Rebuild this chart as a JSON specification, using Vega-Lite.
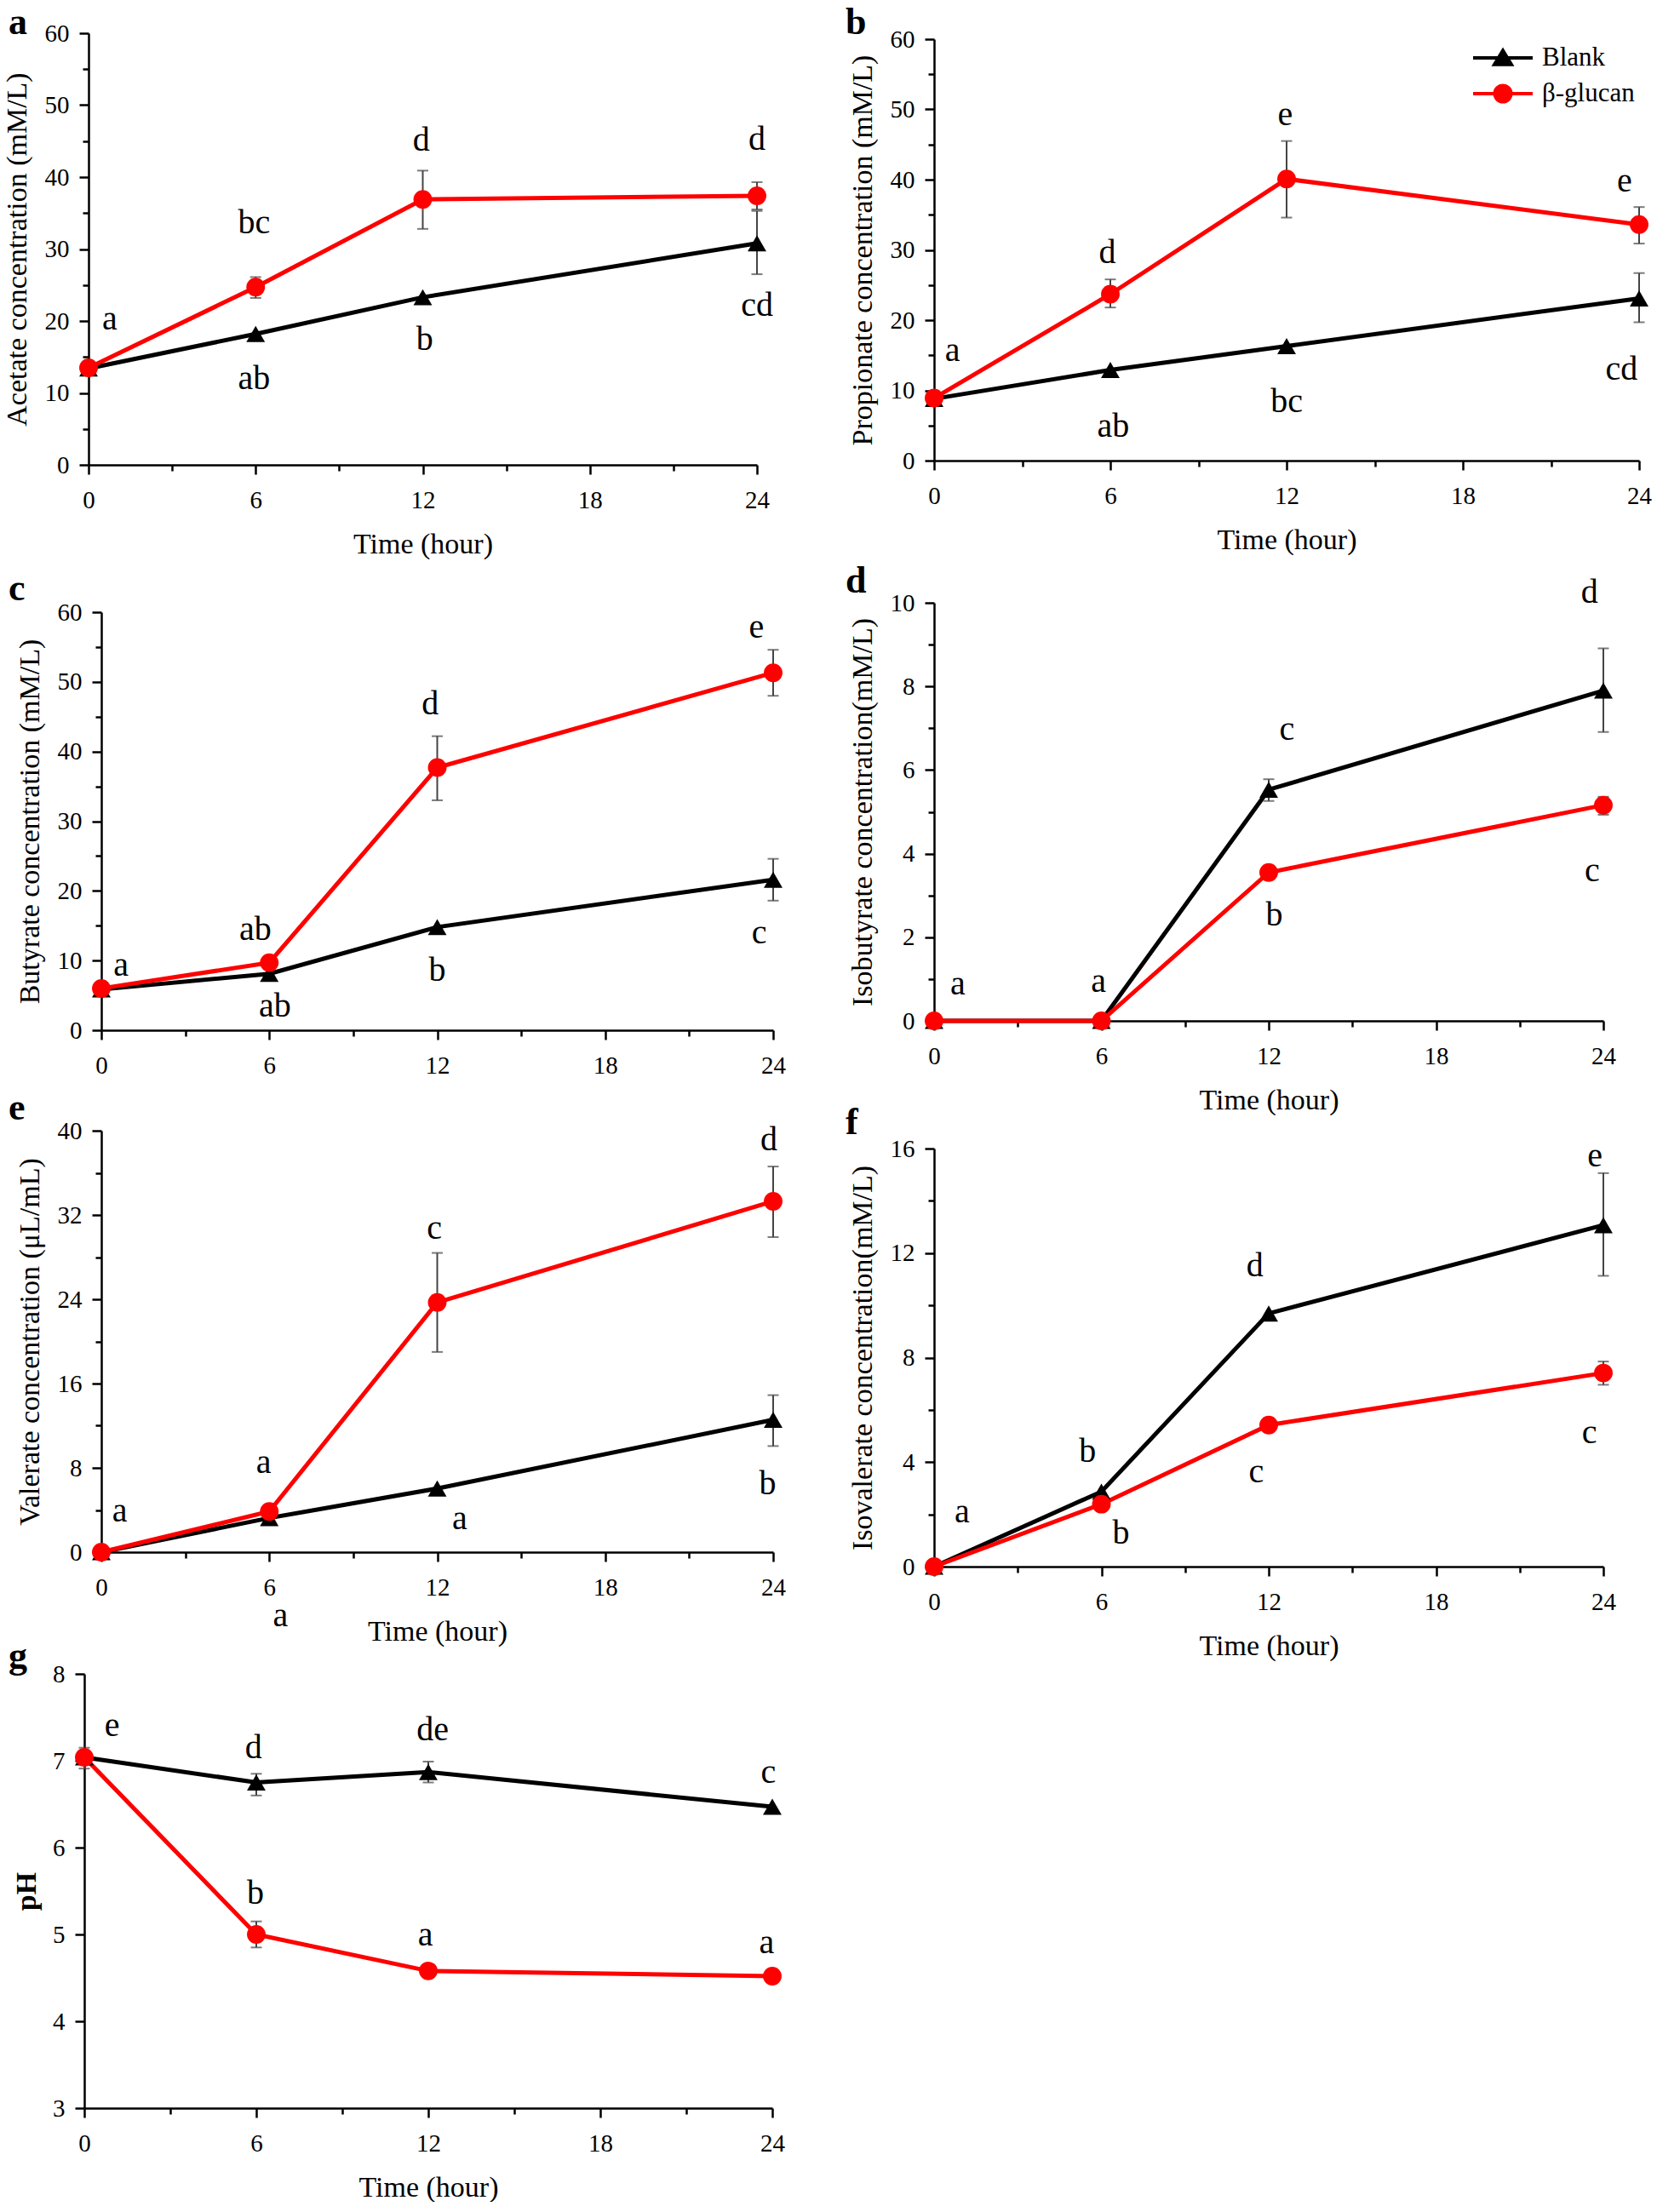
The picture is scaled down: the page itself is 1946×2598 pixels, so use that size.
{
  "$schema": "https://vega.github.io/schema/vega-lite/v6.json",
  "background": "white",
  "padding": {"left": 3, "top": 5, "right": 0, "bottom": 0},
  "columns": 2,
  "spacing": {"row": 0, "column": 189},
  "bounds": "flush",
  "resolve": {"scale": {"color": "independent", "shape": "independent"}, "legend": {"color": "independent", "shape": "independent"}},
  "datasets": {
    "series": [
      {"p": "a", "g": "Blank", "t": 0, "v": 13.4}, {"p": "a", "g": "Blank", "t": 6, "v": 18.2}, {"p": "a", "g": "Blank", "t": 12, "v": 23.3}, {"p": "a", "g": "Blank", "t": 24, "v": 30.8},
      {"p": "a", "g": "β-glucan", "t": 0, "v": 13.5}, {"p": "a", "g": "β-glucan", "t": 6, "v": 24.7}, {"p": "a", "g": "β-glucan", "t": 12, "v": 36.9}, {"p": "a", "g": "β-glucan", "t": 24, "v": 37.4},
      {"p": "b", "g": "Blank", "t": 0, "v": 8.8}, {"p": "b", "g": "Blank", "t": 6, "v": 12.9}, {"p": "b", "g": "Blank", "t": 12, "v": 16.3}, {"p": "b", "g": "Blank", "t": 24, "v": 23.1},
      {"p": "b", "g": "β-glucan", "t": 0, "v": 8.9}, {"p": "b", "g": "β-glucan", "t": 6, "v": 23.7}, {"p": "b", "g": "β-glucan", "t": 12, "v": 40.1}, {"p": "b", "g": "β-glucan", "t": 24, "v": 33.6},
      {"p": "c", "g": "Blank", "t": 0, "v": 5.85}, {"p": "c", "g": "Blank", "t": 6, "v": 8.1}, {"p": "c", "g": "Blank", "t": 12, "v": 14.8}, {"p": "c", "g": "Blank", "t": 24, "v": 21.6},
      {"p": "c", "g": "β-glucan", "t": 0, "v": 6.0}, {"p": "c", "g": "β-glucan", "t": 6, "v": 9.7}, {"p": "c", "g": "β-glucan", "t": 12, "v": 37.7}, {"p": "c", "g": "β-glucan", "t": 24, "v": 51.3},
      {"p": "d", "g": "Blank", "t": 0, "v": 0}, {"p": "d", "g": "Blank", "t": 6, "v": 0}, {"p": "d", "g": "Blank", "t": 12, "v": 5.53}, {"p": "d", "g": "Blank", "t": 24, "v": 7.9},
      {"p": "d", "g": "β-glucan", "t": 0, "v": 0}, {"p": "d", "g": "β-glucan", "t": 6, "v": 0}, {"p": "d", "g": "β-glucan", "t": 12, "v": 3.55}, {"p": "d", "g": "β-glucan", "t": 24, "v": 5.16},
      {"p": "e", "g": "Blank", "t": 0, "v": 0}, {"p": "e", "g": "Blank", "t": 6, "v": 3.24}, {"p": "e", "g": "Blank", "t": 12, "v": 6.04}, {"p": "e", "g": "Blank", "t": 24, "v": 12.56},
      {"p": "e", "g": "β-glucan", "t": 0, "v": 0}, {"p": "e", "g": "β-glucan", "t": 6, "v": 3.86}, {"p": "e", "g": "β-glucan", "t": 12, "v": 23.7}, {"p": "e", "g": "β-glucan", "t": 24, "v": 33.3},
      {"p": "f", "g": "Blank", "t": 0, "v": 0}, {"p": "f", "g": "Blank", "t": 6, "v": 2.87}, {"p": "f", "g": "Blank", "t": 12, "v": 9.69}, {"p": "f", "g": "Blank", "t": 24, "v": 13.07},
      {"p": "f", "g": "β-glucan", "t": 0, "v": 0}, {"p": "f", "g": "β-glucan", "t": 6, "v": 2.39}, {"p": "f", "g": "β-glucan", "t": 12, "v": 5.42}, {"p": "f", "g": "β-glucan", "t": 24, "v": 7.41},
      {"p": "g", "g": "Blank", "t": 0, "v": 7.04}, {"p": "g", "g": "Blank", "t": 6, "v": 6.75}, {"p": "g", "g": "Blank", "t": 12, "v": 6.87}, {"p": "g", "g": "Blank", "t": 24, "v": 6.47},
      {"p": "g", "g": "β-glucan", "t": 0, "v": 7.04}, {"p": "g", "g": "β-glucan", "t": 6, "v": 5.0}, {"p": "g", "g": "β-glucan", "t": 12, "v": 4.58}, {"p": "g", "g": "β-glucan", "t": 24, "v": 4.52}
    ],
    "errs": [
      {"p": "a", "t": 24, "v": 26.5, "v2": 35.3}, {"p": "a", "t": 6, "v": 23.2, "v2": 26.1}, {"p": "a", "t": 12, "v": 32.8, "v2": 40.9}, {"p": "a", "t": 24, "v": 35.5, "v2": 39.3},
      {"p": "b", "t": 24, "v": 19.7, "v2": 26.7}, {"p": "b", "t": 6, "v": 21.8, "v2": 25.8}, {"p": "b", "t": 12, "v": 34.6, "v2": 45.5}, {"p": "b", "t": 24, "v": 30.9, "v2": 36.1},
      {"p": "c", "t": 24, "v": 18.6, "v2": 24.6}, {"p": "c", "t": 12, "v": 33.0, "v2": 42.2}, {"p": "c", "t": 24, "v": 48.0, "v2": 54.6},
      {"p": "d", "t": 12, "v": 5.26, "v2": 5.78}, {"p": "d", "t": 24, "v": 6.91, "v2": 8.91}, {"p": "d", "t": 24, "v": 4.93, "v2": 5.36},
      {"p": "e", "t": 24, "v": 10.07, "v2": 14.9}, {"p": "e", "t": 12, "v": 19.0, "v2": 28.4}, {"p": "e", "t": 24, "v": 29.9, "v2": 36.6},
      {"p": "f", "t": 24, "v": 11.13, "v2": 15.06}, {"p": "f", "t": 24, "v": 6.96, "v2": 7.85},
      {"p": "g", "t": 0, "v": 6.91, "v2": 7.15}, {"p": "g", "t": 6, "v": 6.6, "v2": 6.85}, {"p": "g", "t": 12, "v": 6.75, "v2": 6.99}, {"p": "g", "t": 6, "v": 4.85, "v2": 5.15}
    ],
    "letters": [
      {"p": "a", "t": 0.76, "v": 20.2, "s": "a"}, {"p": "a", "t": 5.94, "v": 33.6, "s": "bc"}, {"p": "a", "t": 11.95, "v": 45.1, "s": "d"}, {"p": "a", "t": 24.0, "v": 45.2, "s": "d"},
      {"p": "a", "t": 5.94, "v": 12.0, "s": "ab"}, {"p": "a", "t": 12.07, "v": 17.4, "s": "b"}, {"p": "a", "t": 24.0, "v": 22.1, "s": "cd"},
      {"p": "b", "t": 0.63, "v": 15.6, "s": "a"}, {"p": "b", "t": 5.9, "v": 29.6, "s": "d"}, {"p": "b", "t": 11.95, "v": 49.2, "s": "e"}, {"p": "b", "t": 23.5, "v": 39.7, "s": "e"},
      {"p": "b", "t": 6.1, "v": 4.85, "s": "ab"}, {"p": "b", "t": 12.0, "v": 8.4, "s": "bc"}, {"p": "b", "t": 23.4, "v": 13.0, "s": "cd"},
      {"p": "c", "t": 0.7, "v": 9.3, "s": "a"}, {"p": "c", "t": 5.5, "v": 14.4, "s": "ab"}, {"p": "c", "t": 6.2, "v": 3.4, "s": "ab"}, {"p": "c", "t": 11.75, "v": 46.8, "s": "d"},
      {"p": "c", "t": 12.0, "v": 8.5, "s": "b"}, {"p": "c", "t": 23.4, "v": 57.8, "s": "e"}, {"p": "c", "t": 23.5, "v": 13.9, "s": "c"},
      {"p": "d", "t": 0.85, "v": 0.87, "s": "a"}, {"p": "d", "t": 5.9, "v": 0.93, "s": "a"}, {"p": "d", "t": 12.65, "v": 6.96, "s": "c"}, {"p": "d", "t": 12.2, "v": 2.53, "s": "b"},
      {"p": "d", "t": 23.5, "v": 10.25, "s": "d"}, {"p": "d", "t": 23.6, "v": 3.59, "s": "c"},
      {"p": "e", "t": 0.66, "v": 3.86, "s": "a"}, {"p": "e", "t": 5.8, "v": 8.5, "s": "a"}, {"p": "e", "t": 6.4, "v": -6.1, "s": "a"}, {"p": "e", "t": 11.9, "v": 30.7, "s": "c"},
      {"p": "e", "t": 12.8, "v": 3.14, "s": "a"}, {"p": "e", "t": 23.85, "v": 39.1, "s": "d"}, {"p": "e", "t": 23.8, "v": 6.5, "s": "b"},
      {"p": "f", "t": 1.0, "v": 2.1, "s": "a"}, {"p": "f", "t": 5.5, "v": 4.4, "s": "b"}, {"p": "f", "t": 6.7, "v": 1.26, "s": "b"}, {"p": "f", "t": 11.5, "v": 11.5, "s": "d"},
      {"p": "f", "t": 11.55, "v": 3.62, "s": "c"}, {"p": "f", "t": 23.7, "v": 15.7, "s": "e"}, {"p": "f", "t": 23.5, "v": 5.12, "s": "c"},
      {"p": "g", "t": 0.97, "v": 7.4, "s": "e"}, {"p": "g", "t": 5.9, "v": 7.15, "s": "d"}, {"p": "g", "t": 12.15, "v": 7.35, "s": "de"}, {"p": "g", "t": 23.86, "v": 6.86, "s": "c"},
      {"p": "g", "t": 5.97, "v": 5.47, "s": "b"}, {"p": "g", "t": 11.9, "v": 4.99, "s": "a"}, {"p": "g", "t": 23.8, "v": 4.9, "s": "a"}
    ]
  },
  "concat": [
    {
      "width": 790, "height": 541,
      "title": {"text": "a", "dx": -89, "dy": 48},
      "encoding": {
        "x": {"field": "t", "type": "quantitative", "scale": {"domain": [0, 24], "range": [5, 790], "nice": false, "zero": false},
              "axis": {"title": "Time (hour)", "values": [0, 3, 6, 9, 12, 15, 18, 21, 24], "format": "d", "labelExpr": "datum.value % 6 === 0 ? datum.label : ''", "tickSize": {"condition": {"test": "datum.value % 6 !== 0", "value": 7}, "value": 11}}},
        "y": {"field": "v", "type": "quantitative", "scale": {"domain": [0, 60], "range": [541, 34], "nice": false, "zero": false},
              "axis": {"title": "Acetate concentration (mM/L)", "offset": -5, "values": [0, 5, 10, 15, 20, 25, 30, 35, 40, 45, 50, 55, 60], "format": "d", "labelExpr": "datum.value % 10 === 0 ? datum.label : ''", "tickSize": {"condition": {"test": "datum.value % 10 !== 0", "value": 7}, "value": 11}}}
      },
      "layer": [
        {"data": {"name": "series"}, "transform": [{"filter": "datum.p === 'a'"}], "mark": {"type": "line", "strokeWidth": 5},
         "encoding": {"color": {"field": "g", "type": "nominal", "scale": {"domain": ["Blank", "β-glucan"], "range": ["#000000", "#ff0000"]}, "legend": null}}},
        {"data": {"name": "errs"}, "transform": [{"filter": "datum.p === 'a'"}], "mark": {"type": "errorbar", "thickness": 2, "size": 13, "ticks": {"color": "#444444"}, "rule": {"color": "#444444"}},
         "encoding": {"y2": {"field": "v2"}}},
        {"data": {"name": "series"}, "transform": [{"filter": "datum.p === 'a'"}], "mark": {"type": "point", "filled": true, "size": 480, "opacity": 1},
         "encoding": {"color": {"field": "g", "type": "nominal", "scale": {"domain": ["Blank", "β-glucan"], "range": ["#000000", "#ff0000"]}, "legend": null},
                      "shape": {"field": "g", "type": "nominal", "scale": {"domain": ["Blank", "β-glucan"], "range": ["triangle-up", "circle"]}, "legend": null}}},
        {"data": {"name": "letters"}, "transform": [{"filter": "datum.p === 'a'"}], "mark": {"type": "text", "font": "Liberation Serif", "fontSize": 40, "baseline": "middle", "align": "center", "color": "#000000"},
         "encoding": {"text": {"field": "s"}}}
      ]
    },
    {
      "width": 828, "height": 536,
      "title": {"text": "b", "dx": -104, "dy": 48},
      "encoding": {
        "x": {"field": "t", "type": "quantitative", "scale": {"domain": [0, 24], "range": [0, 828], "nice": false, "zero": false},
              "axis": {"title": "Time (hour)", "values": [0, 3, 6, 9, 12, 15, 18, 21, 24], "format": "d", "labelExpr": "datum.value % 6 === 0 ? datum.label : ''", "tickSize": {"condition": {"test": "datum.value % 6 !== 0", "value": 7}, "value": 11}}},
        "y": {"field": "v", "type": "quantitative", "scale": {"domain": [0, 60], "range": [536, 41], "nice": false, "zero": false},
              "axis": {"title": "Propionate concentration (mM/L)", "values": [0, 5, 10, 15, 20, 25, 30, 35, 40, 45, 50, 55, 60], "format": "d", "labelExpr": "datum.value % 10 === 0 ? datum.label : ''", "tickSize": {"condition": {"test": "datum.value % 10 !== 0", "value": 7}, "value": 11}}}
      },
      "layer": [
        {"data": {"name": "series"}, "transform": [{"filter": "datum.p === 'b'"}], "mark": {"type": "line", "strokeWidth": 5},
         "encoding": {"color": {"field": "g", "type": "nominal", "scale": {"domain": ["Blank", "β-glucan"], "range": ["#000000", "#ff0000"]},
           "legend": {"title": null, "orient": "none", "legendX": 652, "legendY": 47, "padding": 0, "labelFont": "Liberation Serif", "labelFontSize": 31, "labelColor": "#000000", "labelOffset": 30, "rowPadding": 8, "symbolSize": 784, "symbolStrokeWidth": 4, "symbolType": "M-2.5,0H2.5",
             "encoding": {"symbols": {
               "shape": {"condition": {"test": "datum.value === 'Blank'", "value": "M-2.5,0H2.5M0,-0.62L0.71,0.55L-0.71,0.55Z"}, "value": "M-2.5,0H2.5M0.68,0A0.68,0.68,0,1,1,-0.68,0A0.68,0.68,0,1,1,0.68,0Z"},
               "fill": {"condition": {"test": "datum.value === 'Blank'", "value": "#000000"}, "value": "#ff0000"},
               "stroke": {"condition": {"test": "datum.value === 'Blank'", "value": "#000000"}, "value": "#ff0000"},
               "strokeWidth": {"value": 4}, "opacity": {"value": 1}, "fillOpacity": {"value": 1}, "strokeOpacity": {"value": 1}}}}}}},
        {"data": {"name": "errs"}, "transform": [{"filter": "datum.p === 'b'"}], "mark": {"type": "errorbar", "thickness": 2, "size": 13, "ticks": {"color": "#444444"}, "rule": {"color": "#444444"}},
         "encoding": {"y2": {"field": "v2"}}},
        {"data": {"name": "series"}, "transform": [{"filter": "datum.p === 'b' && datum.g === 'Blank'"}], "mark": {"type": "point", "filled": true, "size": 480, "opacity": 1, "shape": "triangle-up", "color": "#000000"}},
        {"data": {"name": "series"}, "transform": [{"filter": "datum.p === 'b' && datum.g !== 'Blank'"}], "mark": {"type": "point", "filled": true, "size": 480, "opacity": 1, "shape": "circle", "color": "#ff0000"}},
        {"data": {"name": "letters"}, "transform": [{"filter": "datum.p === 'b'"}], "mark": {"type": "text", "font": "Liberation Serif", "fontSize": 40, "baseline": "middle", "align": "center", "color": "#000000"},
         "encoding": {"text": {"field": "s"}}}
      ]
    },
    {
      "width": 809, "height": 664,
      "title": {"text": "c", "dx": -89, "dy": 172},
      "encoding": {
        "x": {"field": "t", "type": "quantitative", "scale": {"domain": [0, 24], "range": [20, 809], "nice": false, "zero": false},
              "axis": {"title": null, "values": [0, 3, 6, 9, 12, 15, 18, 21, 24], "format": "d", "labelExpr": "datum.value % 6 === 0 ? datum.label : ''", "tickSize": {"condition": {"test": "datum.value % 6 !== 0", "value": 7}, "value": 11}}},
        "y": {"field": "v", "type": "quantitative", "scale": {"domain": [0, 60], "range": [664, 173], "nice": false, "zero": false},
              "axis": {"title": "Butyrate concentration (mM/L)", "offset": -20, "values": [0, 5, 10, 15, 20, 25, 30, 35, 40, 45, 50, 55, 60], "format": "d", "labelExpr": "datum.value % 10 === 0 ? datum.label : ''", "tickSize": {"condition": {"test": "datum.value % 10 !== 0", "value": 7}, "value": 11}}}
      },
      "layer": [
        {"data": {"name": "series"}, "transform": [{"filter": "datum.p === 'c'"}], "mark": {"type": "line", "strokeWidth": 5},
         "encoding": {"color": {"field": "g", "type": "nominal", "scale": {"domain": ["Blank", "β-glucan"], "range": ["#000000", "#ff0000"]}, "legend": null}}},
        {"data": {"name": "errs"}, "transform": [{"filter": "datum.p === 'c'"}], "mark": {"type": "errorbar", "thickness": 2, "size": 13, "ticks": {"color": "#444444"}, "rule": {"color": "#444444"}},
         "encoding": {"y2": {"field": "v2"}}},
        {"data": {"name": "series"}, "transform": [{"filter": "datum.p === 'c'"}], "mark": {"type": "point", "filled": true, "size": 480, "opacity": 1},
         "encoding": {"color": {"field": "g", "type": "nominal", "scale": {"domain": ["Blank", "β-glucan"], "range": ["#000000", "#ff0000"]}, "legend": null},
                      "shape": {"field": "g", "type": "nominal", "scale": {"domain": ["Blank", "β-glucan"], "range": ["triangle-up", "circle"]}, "legend": null}}},
        {"data": {"name": "letters"}, "transform": [{"filter": "datum.p === 'c'"}], "mark": {"type": "text", "font": "Liberation Serif", "fontSize": 40, "baseline": "middle", "align": "center", "color": "#000000"},
         "encoding": {"text": {"field": "s"}}}
      ]
    },
    {
      "width": 786, "height": 653,
      "title": {"text": "d", "dx": -104, "dy": 163},
      "encoding": {
        "x": {"field": "t", "type": "quantitative", "scale": {"domain": [0, 24], "range": [0, 786], "nice": false, "zero": false},
              "axis": {"title": "Time (hour)", "values": [0, 3, 6, 9, 12, 15, 18, 21, 24], "format": "d", "labelExpr": "datum.value % 6 === 0 ? datum.label : ''", "tickSize": {"condition": {"test": "datum.value % 6 !== 0", "value": 7}, "value": 11}}},
        "y": {"field": "v", "type": "quantitative", "scale": {"domain": [0, 10], "range": [653, 162], "nice": false, "zero": false},
              "axis": {"title": "Isobutyrate concentration(mM/L)", "values": [0, 1, 2, 3, 4, 5, 6, 7, 8, 9, 10], "format": "d", "labelExpr": "datum.value % 2 === 0 ? datum.label : ''", "tickSize": {"condition": {"test": "datum.value % 2 !== 0", "value": 7}, "value": 11}}}
      },
      "layer": [
        {"data": {"name": "series"}, "transform": [{"filter": "datum.p === 'd'"}], "mark": {"type": "line", "strokeWidth": 5},
         "encoding": {"color": {"field": "g", "type": "nominal", "scale": {"domain": ["Blank", "β-glucan"], "range": ["#000000", "#ff0000"]}, "legend": null}}},
        {"data": {"name": "errs"}, "transform": [{"filter": "datum.p === 'd'"}], "mark": {"type": "errorbar", "thickness": 2, "size": 13, "ticks": {"color": "#444444"}, "rule": {"color": "#444444"}},
         "encoding": {"y2": {"field": "v2"}}},
        {"data": {"name": "series"}, "transform": [{"filter": "datum.p === 'd'"}], "mark": {"type": "point", "filled": true, "size": 480, "opacity": 1},
         "encoding": {"color": {"field": "g", "type": "nominal", "scale": {"domain": ["Blank", "β-glucan"], "range": ["#000000", "#ff0000"]}, "legend": null},
                      "shape": {"field": "g", "type": "nominal", "scale": {"domain": ["Blank", "β-glucan"], "range": ["triangle-up", "circle"]}, "legend": null}}},
        {"data": {"name": "letters"}, "transform": [{"filter": "datum.p === 'd'"}], "mark": {"type": "text", "font": "Liberation Serif", "fontSize": 40, "baseline": "middle", "align": "center", "color": "#000000"},
         "encoding": {"text": {"field": "s"}}}
      ]
    },
    {
      "width": 809, "height": 613,
      "title": {"text": "e", "dx": -89, "dy": 118},
      "encoding": {
        "x": {"field": "t", "type": "quantitative", "scale": {"domain": [0, 24], "range": [20, 809], "nice": false, "zero": false},
              "axis": {"title": "Time (hour)", "values": [0, 3, 6, 9, 12, 15, 18, 21, 24], "format": "d", "labelExpr": "datum.value % 6 === 0 ? datum.label : ''", "tickSize": {"condition": {"test": "datum.value % 6 !== 0", "value": 7}, "value": 11}}},
        "y": {"field": "v", "type": "quantitative", "scale": {"domain": [0, 40], "range": [613, 118], "nice": false, "zero": false},
              "axis": {"title": "Valerate concentration (μL/mL)", "offset": -20, "values": [0, 4, 8, 12, 16, 20, 24, 28, 32, 36, 40], "format": "d", "labelExpr": "datum.value % 8 === 0 ? datum.label : ''", "tickSize": {"condition": {"test": "datum.value % 8 !== 0", "value": 7}, "value": 11}}}
      },
      "layer": [
        {"data": {"name": "series"}, "transform": [{"filter": "datum.p === 'e'"}], "mark": {"type": "line", "strokeWidth": 5},
         "encoding": {"color": {"field": "g", "type": "nominal", "scale": {"domain": ["Blank", "β-glucan"], "range": ["#000000", "#ff0000"]}, "legend": null}}},
        {"data": {"name": "errs"}, "transform": [{"filter": "datum.p === 'e'"}], "mark": {"type": "errorbar", "thickness": 2, "size": 13, "ticks": {"color": "#444444"}, "rule": {"color": "#444444"}},
         "encoding": {"y2": {"field": "v2"}}},
        {"data": {"name": "series"}, "transform": [{"filter": "datum.p === 'e'"}], "mark": {"type": "point", "filled": true, "size": 480, "opacity": 1},
         "encoding": {"color": {"field": "g", "type": "nominal", "scale": {"domain": ["Blank", "β-glucan"], "range": ["#000000", "#ff0000"]}, "legend": null},
                      "shape": {"field": "g", "type": "nominal", "scale": {"domain": ["Blank", "β-glucan"], "range": ["triangle-up", "circle"]}, "legend": null}}},
        {"data": {"name": "letters"}, "transform": [{"filter": "datum.p === 'e'"}], "mark": {"type": "text", "font": "Liberation Serif", "fontSize": 40, "baseline": "middle", "align": "center", "color": "#000000"},
         "encoding": {"text": {"field": "s"}}}
      ]
    },
    {
      "width": 786, "height": 630,
      "title": {"text": "f", "dx": -104, "dy": 135},
      "encoding": {
        "x": {"field": "t", "type": "quantitative", "scale": {"domain": [0, 24], "range": [0, 786], "nice": false, "zero": false},
              "axis": {"title": "Time (hour)", "values": [0, 3, 6, 9, 12, 15, 18, 21, 24], "format": "d", "labelExpr": "datum.value % 6 === 0 ? datum.label : ''", "tickSize": {"condition": {"test": "datum.value % 6 !== 0", "value": 7}, "value": 11}}},
        "y": {"field": "v", "type": "quantitative", "scale": {"domain": [0, 16], "range": [630, 139], "nice": false, "zero": false},
              "axis": {"title": "Isovalerate concentration(mM/L)", "values": [0, 2, 4, 6, 8, 10, 12, 14, 16], "format": "d", "labelExpr": "datum.value % 4 === 0 ? datum.label : ''", "tickSize": {"condition": {"test": "datum.value % 4 !== 0", "value": 7}, "value": 11}}}
      },
      "layer": [
        {"data": {"name": "series"}, "transform": [{"filter": "datum.p === 'f'"}], "mark": {"type": "line", "strokeWidth": 5},
         "encoding": {"color": {"field": "g", "type": "nominal", "scale": {"domain": ["Blank", "β-glucan"], "range": ["#000000", "#ff0000"]}, "legend": null}}},
        {"data": {"name": "errs"}, "transform": [{"filter": "datum.p === 'f'"}], "mark": {"type": "errorbar", "thickness": 2, "size": 13, "ticks": {"color": "#444444"}, "rule": {"color": "#444444"}},
         "encoding": {"y2": {"field": "v2"}}},
        {"data": {"name": "series"}, "transform": [{"filter": "datum.p === 'f'"}], "mark": {"type": "point", "filled": true, "size": 480, "opacity": 1},
         "encoding": {"color": {"field": "g", "type": "nominal", "scale": {"domain": ["Blank", "β-glucan"], "range": ["#000000", "#ff0000"]}, "legend": null},
                      "shape": {"field": "g", "type": "nominal", "scale": {"domain": ["Blank", "β-glucan"], "range": ["triangle-up", "circle"]}, "legend": null}}},
        {"data": {"name": "letters"}, "transform": [{"filter": "datum.p === 'f'"}], "mark": {"type": "text", "font": "Liberation Serif", "fontSize": 40, "baseline": "middle", "align": "center", "color": "#000000"},
         "encoding": {"text": {"field": "s"}}}
      ]
    },
    {
      "width": 808, "height": 636,
      "title": {"text": "g", "dx": -89, "dy": 132},
      "encoding": {
        "x": {"field": "t", "type": "quantitative", "scale": {"domain": [0, 24], "range": [0, 808], "nice": false, "zero": false},
              "axis": {"title": "Time (hour)", "values": [0, 3, 6, 9, 12, 15, 18, 21, 24], "format": "d", "labelExpr": "datum.value % 6 === 0 ? datum.label : ''", "tickSize": {"condition": {"test": "datum.value % 6 !== 0", "value": 7}, "value": 11}}},
        "y": {"field": "v", "type": "quantitative", "scale": {"domain": [3, 8], "range": [636, 126], "nice": false, "zero": false},
              "axis": {"title": "pH", "titleX": -68, "titleFontWeight": "bold", "values": [3, 3.5, 4, 4.5, 5, 5.5, 6, 6.5, 7, 7.5, 8], "format": "d", "labelExpr": "datum.value % 1 === 0 ? datum.label : ''", "tickSize": {"condition": {"test": "datum.value % 1 !== 0", "value": 7}, "value": 11}}}
      },
      "layer": [
        {"data": {"name": "series"}, "transform": [{"filter": "datum.p === 'g'"}], "mark": {"type": "line", "strokeWidth": 5},
         "encoding": {"color": {"field": "g", "type": "nominal", "scale": {"domain": ["Blank", "β-glucan"], "range": ["#000000", "#ff0000"]}, "legend": null}}},
        {"data": {"name": "errs"}, "transform": [{"filter": "datum.p === 'g'"}], "mark": {"type": "errorbar", "thickness": 2, "size": 13, "ticks": {"color": "#444444"}, "rule": {"color": "#444444"}},
         "encoding": {"y2": {"field": "v2"}}},
        {"data": {"name": "series"}, "transform": [{"filter": "datum.p === 'g'"}], "mark": {"type": "point", "filled": true, "size": 480, "opacity": 1},
         "encoding": {"color": {"field": "g", "type": "nominal", "scale": {"domain": ["Blank", "β-glucan"], "range": ["#000000", "#ff0000"]}, "legend": null},
                      "shape": {"field": "g", "type": "nominal", "scale": {"domain": ["Blank", "β-glucan"], "range": ["triangle-up", "circle"]}, "legend": null}}},
        {"data": {"name": "letters"}, "transform": [{"filter": "datum.p === 'g'"}], "mark": {"type": "text", "font": "Liberation Serif", "fontSize": 40, "baseline": "middle", "align": "center", "color": "#000000"},
         "encoding": {"text": {"field": "s"}}}
      ]
    }
  ],
  "config": {
    "view": {"stroke": null},
    "font": "Liberation Serif",
    "axis": {"grid": false, "domainColor": "#000000", "domainWidth": 2.5, "tickColor": "#000000", "tickWidth": 2.5, "labelFont": "Liberation Serif", "labelFontSize": 29, "labelColor": "#000000", "labelOverlap": false, "labelFlush": false, "titleFont": "Liberation Serif", "titleFontSize": 34, "titleFontWeight": "normal", "titleColor": "#000000"},
    "axisX": {"labelPadding": 16, "titleY": 93, "titleBaseline": "middle"},
    "axisY": {"labelPadding": 12, "titleX": -84, "titleBaseline": "middle"},
    "title": {"anchor": "start", "frame": "group", "offset": 0, "font": "Liberation Serif", "fontSize": 44, "fontWeight": "bold", "color": "#000000", "baseline": "alphabetic", "align": "left"}
  }
}
